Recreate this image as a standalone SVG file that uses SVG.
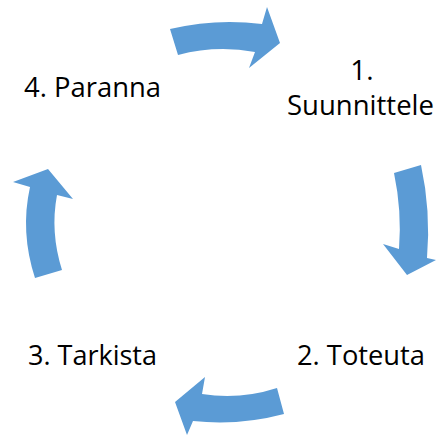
<svg xmlns="http://www.w3.org/2000/svg" width="436" height="437" viewBox="0 0 436 437">
  <style>
    .arrow { fill: #5b9bd5; }
    .label { font-family: "Open Sans", "Liberation Sans", sans-serif; font-size: 28px; fill: #000; }
  </style>
  <rect width="436" height="437" fill="#fff"/>

  <!-- cycle arrows -->
  <g id="connectors">
    <path id="arrow-4-1" class="arrow" d="M170,29 Q216,18 262,24 L267,7 L280,43 L249,68 L255,52 Q216,45 178,55 Z"/>
    <path id="arrow-1-2" class="arrow" d="M394,173 Q402,211 399,249 L383,244 L407,275 L436,260 L427,258 Q431,211 421,165 Z"/>
    <path id="arrow-2-3" class="arrow" d="M277,388 Q240,400 202,394 L205,377 L175,402 L187,435 L193,421 Q239,426 284,414 Z"/>
    <path id="arrow-3-4" class="arrow" d="M35,278 Q20,232 30,187 L13,182 L48,169 L73,199 L57,195 Q50,232 62,270 Z"/>
  </g>

  <g id="node-1">
    <text class="label" x="362" y="80" text-anchor="middle">1.</text>
    <text class="label" x="287" y="115" textLength="147" lengthAdjust="spacingAndGlyphs">Suunnittele</text>
  </g>
  <g id="node-2">
    <text class="label" x="297" y="365" textLength="128" lengthAdjust="spacingAndGlyphs">2. Toteuta</text>
  </g>
  <g id="node-3">
    <text class="label" x="28" y="365" textLength="129" lengthAdjust="spacingAndGlyphs">3. Tarkista</text>
  </g>
  <g id="node-4">
    <text class="label" x="24" y="97" textLength="137" lengthAdjust="spacingAndGlyphs">4. Paranna</text>
  </g>
</svg>
